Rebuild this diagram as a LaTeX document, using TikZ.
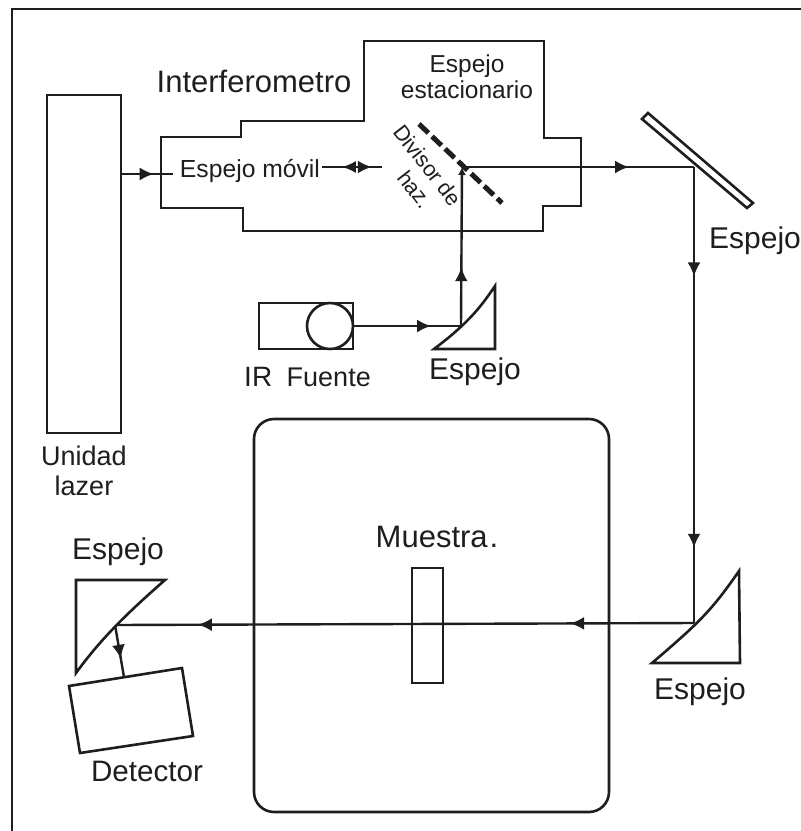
\documentclass[tikz,border=0pt]{standalone}
\usepackage{fontspec}
\setmainfont{Liberation Sans}
\usepackage{xcolor}
\usetikzlibrary{arrows.meta,positioning,calc,decorations.markings}
\definecolor{inkcolor}{RGB}{30, 30, 30}
\tikzset{
lbl/.style 2 args={inner sep=0pt,align=center,text=inkcolor,font=\fontsize{#1}{#2}\selectfont},
part/.style={draw=inkcolor,line width=2.6pt,line join=miter,fill=white},
beam/.style={draw=inkcolor,line width=2.4pt},
tipat/.style={postaction={decorate,decoration={markings,mark=at position #1 with {\arrow[inkcolor]{Latex[length=14pt,width=13pt]}}}}},
tipback/.style={postaction={decorate,decoration={markings,mark=at position #1 with {\arrowreversed[inkcolor]{Latex[length=14pt,width=12pt]}}}}}
}
\begin{document}
\begin{tikzpicture}[x=1pt,y=-1pt,every node/.style={inner sep=0pt}]
\useasboundingbox (0,0) rectangle (801,831);
\fill[white](0,0) rectangle (801,831);
% frame
\coordinate(framebl) at (12,831); \coordinate(frametl) at (12,9); \coordinate(frametr) at (801,9);
\draw[beam](framebl)--(frametl)--(frametr);
% interferometer housing
\draw[part,fill=none](161,137)--(241,137)--(241,121)--(364,121)--(364,41)--(544,41)--(544,138)--(581,138)--(581,206)--(543,206)--(543,231)--(243,231)--(243,208)--(161,208)--cycle;
% sample chamber
\node[draw=inkcolor,line width=2.6pt,rounded corners=20pt,minimum width=355pt,minimum height=393pt](chamber) at (431.5,615.5){};
% boxes
\node[draw=inkcolor,line width=2.6pt,minimum width=74pt,minimum height=338pt](laser) at (84,264){};
\node[draw=inkcolor,line width=2.6pt,minimum width=94pt,minimum height=46pt](irbox) at (306,326){};
\node[draw=inkcolor,line width=2.6pt,circle,minimum size=46pt,anchor=east](irlamp) at (irbox.east){};
% beam points
\coordinate(split) at (462,167); \coordinate(flat) at (694,167); \coordinate(lowhit) at (694,623);
\coordinate(irhit) at (461,326); \coordinate(dethit) at (115,625); \coordinate(detin) at (124,677);
\coordinate(lasertap) at (173,174); \coordinate(movstart) at (322,167); \coordinate(movend) at (382,167);
\coordinate(splitA) at (419,124); \coordinate(splitB) at (502,203);
% beams
\draw[beam,tipat=.72](irlamp.east)--(irhit);
\draw[beam,tipat=.37,-{Latex[length=8pt,width=8pt]}](irhit)--(split);
\draw[beam,tipat=.72](split)--(flat);
\draw[beam,tipat=.24,tipat=.835](flat)--(lowhit);
\draw[beam,tipat=.214,tipat=.857](lowhit)--(dethit);
\draw[beam,tipat=.65](dethit)--(detin);
\draw[beam,tipat=.62](laser.east|-lasertap)--(lasertap);
\draw[beam,tipback=.33,tipat=.83](movstart)--(movend);
% mirrors
\draw[part](642,119)--(648,113)--(753,203)--(747,208)--cycle;
\draw[part](434,349) .. controls (470,322) and (482,305) .. (495,286)--(495,349)--cycle;
\draw[part](652,663) .. controls (700,622) and (712,610) .. (739,571)--(740,663)--cycle;
\draw[part](76,673) .. controls (100,640) and (125,615) .. (165,580)--(76,580)--cycle;
\draw[part](69,686)--(182,668)--(193,736)--(80,753)--cycle;
\draw[line width=5pt,inkcolor,dash pattern=on 13pt off 5pt](splitA)--(splitB);
% labels
\node[draw=inkcolor,line width=2.6pt,minimum width=31pt,minimum height=115pt](sample) at (427.5,625.5){};
\node[lbl={31}{34}](interf) at (254,81){Interferometro};
\node[lbl={24.5}{26}](estac) at (467,77){Espejo\\estacionario};
\node[lbl={24.7}{28},fill=white](movil) at (250,171){Espejo móvil};
\node[lbl={21.6}{25},rotate=-52](divisor) at (418,173){Divisor de\\\hspace*{22pt}haz.};
\node[lbl={30}{34}](espflat) at (755,241){Espejo};
\node[lbl={30}{34}](espir) at (475,372){Espejo};
\node[lbl={27}{30},below=11pt of laser](unidad){Unidad\\lazer};
\node[lbl={27}{30}](irtext) at (307.5,377){{\fontsize{28}{30}\selectfont IR}\hspace{7pt} Fuente};
\node[lbl={31}{34}](muestra) at (437,537){Muestra\hspace{2pt}.};
\node[lbl={30}{34}](esplow) at (700,692){Espejo};
\node[lbl={30}{34}](espdet) at (118,552){Espejo};
\node[lbl={29.6}{34}](detector) at (147,771){Detector};
\end{tikzpicture}
\end{document}
